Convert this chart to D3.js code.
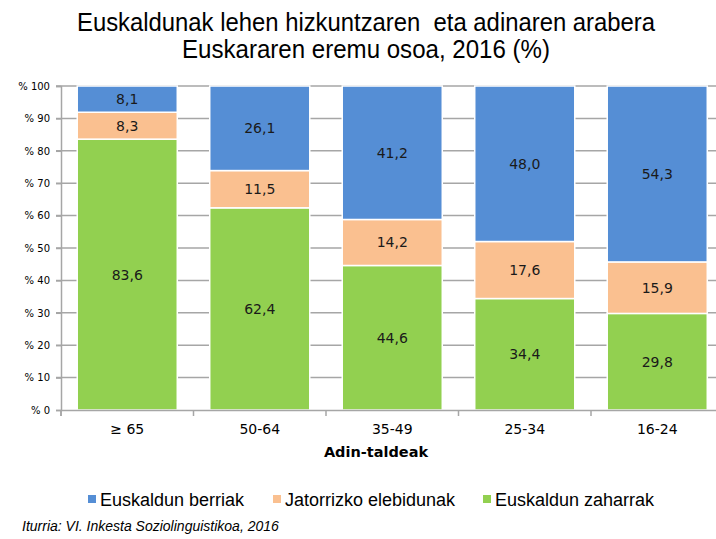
<!DOCTYPE html>
<html><head><meta charset="utf-8">
<script src="https://cdn.jsdelivr.net/npm/d3@7"></script>
<style>body{margin:0;background:#fff;}svg{display:block;}</style>
</head><body>
<svg id="c" width="716" height="539"></svg>
<script>
const categories = ["≥ 65", "50-64", "35-49", "25-34", "16-24"];
const seriesNames = ["Euskaldun zaharrak", "Jatorrizko elebidunak", "Euskaldun berriak"];
const zaharrak = [83.6, 62.4, 44.6, 34.4, 29.8];
const elebidunak = [8.3, 11.5, 14.2, 17.6, 15.9];
const berriak = [8.1, 26.1, 41.2, 48.0, 54.3];
const yTicks = [0, 10, 20, 30, 40, 50, 60, 70, 80, 90, 100];
const colors = ["#92d050", "#fac090", "#558ed5"];
const legendOrder = [2, 1, 0];

const svg = d3.select("#c");
const x = d3.scaleBand().domain(categories).range([61, 723.5]).paddingInner(0.245).paddingOuter(0.1225);
const y = d3.scaleLinear().domain([0, 100]).range([410, 86]);

// title
const title = svg.append("text").attr("text-anchor", "middle").attr("font-family", "'Liberation Sans', Arial, sans-serif").attr("font-size", 25).attr("fill", "#000").style("white-space", "pre");
title.append("tspan").attr("x", 366).attr("y", 31).attr("textLength", 578).attr("lengthAdjust", "spacingAndGlyphs").text("Euskaldunak lehen hizkuntzaren  eta adinaren arabera");
title.append("tspan").attr("x", 366).attr("y", 58).attr("textLength", 368).attr("lengthAdjust", "spacingAndGlyphs").text("Euskararen eremu osoa, 2016 (%)");

// gridlines
svg.append("g").selectAll("line").data(yTicks.filter(d => d > 0)).join("line")
  .attr("x1", 56).attr("x2", 716).attr("y1", d => y(d)).attr("y2", d => y(d))
  .attr("stroke", "#a6a6a6").attr("stroke-width", 1.5);

// y axis
const yAxis = d3.axisLeft(y).tickValues(yTicks).tickSize(5).tickFormat(d => "% " + d);
const gy = svg.append("g").attr("transform", "translate(61,0)").call(yAxis);
gy.select(".domain").attr("stroke", "#a6a6a6").attr("stroke-width", 1.5);
gy.selectAll(".tick line").attr("stroke", "#a6a6a6").attr("stroke-width", 1.5);
gy.selectAll(".tick text").attr("font-family", "Tahoma, 'DejaVu Sans', sans-serif").attr("font-size", 10).attr("fill", "#000").attr("x", -11);

// stacked bars
const rows = categories.map((c, i) => ({cat: c, v: [zaharrak[i], elebidunak[i], berriak[i]]}));
const stack = d3.stack().keys([0, 1, 2]).value((d, k) => d.v[k]);
const layers = stack(rows);
const fmt = v => d3.format(".1f")(v).replace(".", ",");
layers.forEach((layer, k) => {
  const g = svg.append("g");
  g.selectAll("rect").data(layer).join("rect")
    .attr("x", d => x(d.data.cat)).attr("width", x.bandwidth())
    .attr("y", d => y(d[1])).attr("height", d => y(d[0]) - y(d[1]))
    .attr("fill", colors[k]).attr("stroke", "#fff").attr("stroke-width", 1.5);
  g.selectAll("text").data(layer).join("text")
    .attr("x", d => x(d.data.cat) + x.bandwidth() / 2)
    .attr("y", d => (y(d[0]) + y(d[1])) / 2 + 5)
    .attr("text-anchor", "middle").attr("font-family", "Tahoma, 'DejaVu Sans', sans-serif").attr("font-size", 14).attr("fill", "#1a1a1a")
    .text(d => fmt(d[1] - d[0]));
});

// x axis
const xAxis = d3.axisBottom(x).tickSize(6).tickSizeOuter(0);
const gx = svg.append("g").attr("transform", "translate(0,410)").call(xAxis);
gx.select(".domain").attr("stroke", "#a6a6a6").attr("stroke-width", 1.5);
gx.selectAll(".tick line").attr("stroke", "#a6a6a6").attr("stroke-width", 1.5)
  .attr("transform", (d) => `translate(${-x.step() / 2},0)`);
gx.selectAll(".tick text").attr("font-family", "Tahoma, 'DejaVu Sans', sans-serif").attr("font-size", 14).attr("fill", "#000").attr("y", 14);
svg.append("line").attr("x1", 61).attr("x2", 61).attr("y1", 410).attr("y2", 416).attr("stroke", "#a6a6a6").attr("stroke-width", 1.5);

svg.append("text").attr("x", 376).attr("y", 457).attr("text-anchor", "middle")
  .attr("font-family", "Tahoma, 'DejaVu Sans', sans-serif").attr("font-weight", "bold").attr("font-size", 14.5).attr("fill", "#000").text("Adin-taldeak");

// legend
const legX = [88, 273, 483];
const leg = svg.append("g").selectAll("g").data(legendOrder).join("g")
  .attr("transform", (k, i) => `translate(${legX[i]},499)`);
leg.append("rect").attr("x", 0).attr("y", -4).attr("width", 8).attr("height", 8).attr("fill", k => colors[k]);
leg.append("text").attr("x", 12).attr("y", 6.5).attr("font-family", "Arial, 'Liberation Sans', sans-serif").attr("font-size", 18).attr("fill", "#000").text(k => seriesNames[k]);

// source
svg.append("text").attr("x", 22).attr("y", 531).attr("font-family", "Arial, 'Liberation Sans', sans-serif").attr("font-style", "italic").attr("font-size", 14).attr("fill", "#000").text("Iturria: VI. Inkesta Soziolinguistikoa, 2016");
</script>
</body></html>
